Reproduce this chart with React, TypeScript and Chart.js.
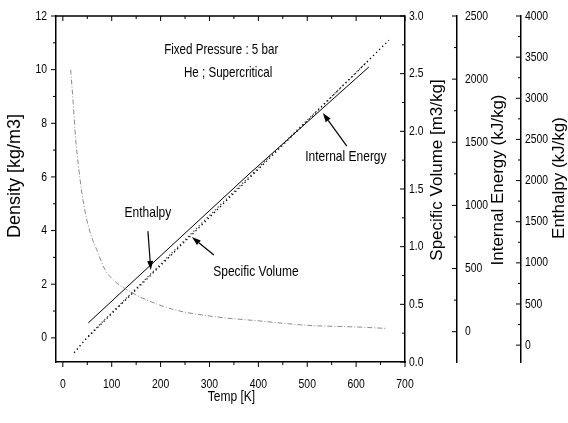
import { useEffect, useRef } from "react";
import { Chart, registerables } from "chart.js";

Chart.register(...registerables);

// ---- data ----
const densityTemp = [16, 21, 26, 32, 39, 49, 60, 69, 86, 107, 127, 161, 226, 315, 403, 499, 608, 663];
const densityValues = [10.0, 8.8, 7.45, 6.4, 5.4, 4.4, 3.7, 3.3, 2.55, 2.1, 1.84, 1.5, 1.06, 0.78, 0.63, 0.47, 0.4, 0.35];

const volumeTemp = [23, 45, 299, 567, 667];
const volumeValues = [0.08, 0.19, 1.25, 2.37, 2.79];

const energyTemp = [52, 299, 622];
const energyValues = [-34, 916, 2136];

const enthalpyTemp = [52, 219, 383, 626];
const enthalpyValues = [270, 1190, 2090, 3380];

// ---- ticks ----
const tempTicks = [0, 100, 200, 300, 400, 500, 600, 700];
const tempMinor = [50, 150, 250, 350, 450, 550, 650];
const densityTicks = [0, 2, 4, 6, 8, 10, 12];
const densityMinor = [1, 3, 5, 7, 9, 11];
const volumeTicks = [0, 0.5, 1.0, 1.5, 2.0, 2.5, 3.0];
const volumeMinor = [0.25, 0.75, 1.25, 1.75, 2.25, 2.75];
const energyTicks = [0, 500, 1000, 1500, 2000, 2500];
const energyMinor = [250, 750, 1250, 1750, 2250];
const enthalpyTicks = [0, 500, 1000, 1500, 2000, 2500, 3000, 3500, 4000];
const enthalpyMinor = [250, 750, 1250, 1750, 2250, 2750, 3250, 3750];

// ---- annotations (in Temp / Density coordinates) ----
const notes = [
  { text: "Fixed Pressure : 5 bar", t: 324, d: 10.73, size: 14.5 },
  { text: "He ; Supercritical", t: 338, d: 9.87, size: 14.5 },
  { text: "Enthalpy", t: 174, d: 4.65, size: 15 },
  { text: "Specific Volume", t: 395, d: 2.45, size: 15 },
  { text: "Internal Energy", t: 579, d: 6.74, size: 15 },
];
const arrows = [
  { from: [581, 7.15], to: [532, 8.38] },
  { from: [174, 3.98], to: [180, 2.53] },
  { from: [309, 3.09], to: [264, 3.76] },
];

const SANS = "'Liberation Sans', Arial, sans-serif";
const SQUEEZE = 0.8;

const pts = (xs: number[], ys: number[]) => xs.map((x, i) => ({ x, y: ys[i] }));
const setTicks = (vals: number[]) => (s: any) => {
  s.ticks = vals.map((v) => ({ value: v }));
};

const decor = {
  id: "decor",
  afterDraw(chart: any) {
    const ctx = chart.ctx as CanvasRenderingContext2D;
    const { top, bottom, left, right } = chart.chartArea;
    const sx = chart.scales.x;
    const sy = chart.scales.y;
    ctx.save();
    ctx.strokeStyle = "#000";
    ctx.fillStyle = "#000";
    ctx.lineWidth = 1;
    const line = (x1: number, y1: number, x2: number, y2: number) => {
      ctx.beginPath();
      ctx.moveTo(x1, y1);
      ctx.lineTo(x2, y2);
      ctx.stroke();
    };
    const text = (
      t: string,
      x: number,
      y: number,
      size: number,
      align: CanvasTextAlign,
      squeeze = SQUEEZE
    ) => {
      ctx.save();
      ctx.translate(x, y);
      ctx.scale(squeeze, 1);
      ctx.font = `${size}px ${SANS}`;
      ctx.textAlign = align;
      ctx.textBaseline = "middle";
      ctx.fillText(t, 0, 0);
      ctx.restore();
    };
    // top frame
    ctx.lineWidth = 1.5;
    line(left, top, right, top);
    ctx.lineWidth = 1;
    tempTicks.forEach((v) => {
      const p = sx.getPixelForValue(v);
      line(p, bottom, p, bottom + 5);
      line(p, top, p, top + 5);
      text(String(v), p, bottom + 22, 13, "center");
    });
    tempMinor.forEach((v) => {
      const p = sx.getPixelForValue(v);
      line(p, bottom, p, bottom + 3);
      line(p, top, p, top + 3);
    });
    densityTicks.forEach((v) => {
      const p = sy.getPixelForValue(v);
      line(left, p, left - 5, p);
      text(String(v), left - 9, p, 13, "right");
    });
    densityMinor.forEach((v) => {
      const p = sy.getPixelForValue(v);
      line(left, p, left - 3, p);
    });
    const rights: [string, number[], number[], number, (v: number) => string][] = [
      ["yv", volumeTicks, volumeMinor, 4, (v) => v.toFixed(1)],
      ["ye", energyTicks, energyMinor, 8, (v) => String(v)],
      ["yh", enthalpyTicks, enthalpyMinor, 4, (v) => String(v)],
    ];
    rights.forEach(([id, maj, min, pad, fmt]) => {
      const s = chart.scales[id];
      maj.forEach((v) => {
        const p = s.getPixelForValue(v);
        line(s.left, p, s.left - 5, p);
        text(fmt(v), s.left + pad, p, 13, "left");
      });
      min.forEach((v) => {
        const p = s.getPixelForValue(v);
        line(s.left, p, s.left - 3, p);
      });
    });

    // annotations
    notes.forEach((n) => {
      text(n.text, sx.getPixelForValue(n.t), sy.getPixelForValue(n.d), n.size, "center");
    });
    arrows.forEach((a) => {
      const x1 = sx.getPixelForValue(a.from[0]);
      const y1 = sy.getPixelForValue(a.from[1]);
      const x2 = sx.getPixelForValue(a.to[0]);
      const y2 = sy.getPixelForValue(a.to[1]);
      const ang = Math.atan2(y2 - y1, x2 - x1);
      const L = 9;
      const W = 3;
      const bx = x2 - L * Math.cos(ang);
      const by = y2 - L * Math.sin(ang);
      ctx.lineWidth = 1.2;
      line(x1, y1, bx, by);
      ctx.beginPath();
      ctx.moveTo(x2, y2);
      ctx.lineTo(bx + W * Math.sin(ang), by - W * Math.cos(ang));
      ctx.lineTo(bx - W * Math.sin(ang), by + W * Math.cos(ang));
      ctx.closePath();
      ctx.fill();
    });

    // axis titles
    const vtitle = (t: string, x: number, y: number, size: number) => {
      ctx.save();
      ctx.translate(x, y);
      ctx.rotate(-Math.PI / 2);
      ctx.font = `${size}px ${SANS}`;
      ctx.textAlign = "center";
      ctx.textBaseline = "middle";
      ctx.fillText(t, 0, 0);
      ctx.restore();
    };
    vtitle("Density [kg/m3]", sy.left + 15, 176, 18);
    vtitle("Specific Volume [m3/kg]", chart.scales.yv.left + 32, 170, 17);
    vtitle("Internal Energy (kJ/kg)", chart.scales.ye.left + 41, 180, 17);
    vtitle("Enthalpy (kJ/kg)", chart.scales.yh.left + 38, 178, 17);
    text("Temp [K]", sx.getPixelForValue(345), bottom + 35, 15, "center");
    ctx.restore();
  },
};

export default function App() {
  const ref = useRef<HTMLCanvasElement>(null);
  useEffect(() => {
    const border = { color: "#000", width: 1.5 };
    const grid = { display: false, drawTicks: false };
    const ticks = { display: false };
    const chart = new Chart(ref.current!, {
      type: "line",
      data: {
        datasets: [
          {
            label: "Density",
            data: pts(densityTemp, densityValues),
            yAxisID: "y",
            borderColor: "#8c8c8c",
            borderWidth: 1,
            borderDash: [5, 2, 1, 2],
            pointRadius: 0,
            cubicInterpolationMode: "monotone",
          },
          {
            label: "Specific Volume",
            data: pts(volumeTemp, volumeValues),
            yAxisID: "yv",
            borderColor: "#000",
            borderWidth: 1.3,
            borderDash: [1.3, 3],
            pointRadius: 0,
          },
          {
            label: "Internal Energy",
            data: pts(energyTemp, energyValues),
            yAxisID: "ye",
            borderColor: "#333",
            borderWidth: 1.2,
            borderDash: [1.2, 2.6],
            pointRadius: 0,
          },
          {
            label: "Enthalpy",
            data: pts(enthalpyTemp, enthalpyValues),
            yAxisID: "yh",
            borderColor: "#000",
            borderWidth: 1,
            pointRadius: 0,
          },
        ],
      },
      options: {
        responsive: false,
        animation: false,
        devicePixelRatio: 1,
        layout: { padding: { top: 16, left: 0, right: 0, bottom: 0 } },
        plugins: { legend: { display: false }, tooltip: { enabled: false } },
        scales: {
          x: {
            type: "linear",
            position: "bottom",
            min: -14,
            max: 700,
            afterBuildTicks: setTicks(tempTicks),
            afterFit: (s: any) => {
              s.height = 61;
            },
            ticks,
            grid,
            border,
          },
          y: {
            type: "linear",
            position: "left",
            min: -0.9,
            max: 12,
            afterBuildTicks: setTicks(densityTicks),
            afterFit: (s: any) => {
              s.width = 56;
            },
            ticks,
            grid,
            border,
          },
          yv: {
            type: "linear",
            position: "right",
            min: 0,
            max: 3,
            afterBuildTicks: setTicks(volumeTicks),
            afterFit: (s: any) => {
              s.width = 52;
            },
            ticks,
            grid,
            border,
          },
          ye: {
            type: "linear",
            position: "right",
            min: -240,
            max: 2500,
            afterBuildTicks: setTicks(energyTicks),
            afterFit: (s: any) => {
              s.width = 64;
            },
            ticks,
            grid,
            border,
          },
          yh: {
            type: "linear",
            position: "right",
            min: -205,
            max: 4000,
            afterBuildTicks: setTicks(enthalpyTicks),
            afterFit: (s: any) => {
              s.width = 47;
            },
            ticks,
            grid,
            border,
          },
        },
      },
      plugins: [decor],
    } as any);
    return () => chart.destroy();
  }, []);
  return (
    <div style={{ position: "absolute", left: 0, top: 0, width: 568, height: 423 }}>
      <canvas ref={ref} width={568} height={423} style={{ display: "block" }} />
    </div>
  );
}
